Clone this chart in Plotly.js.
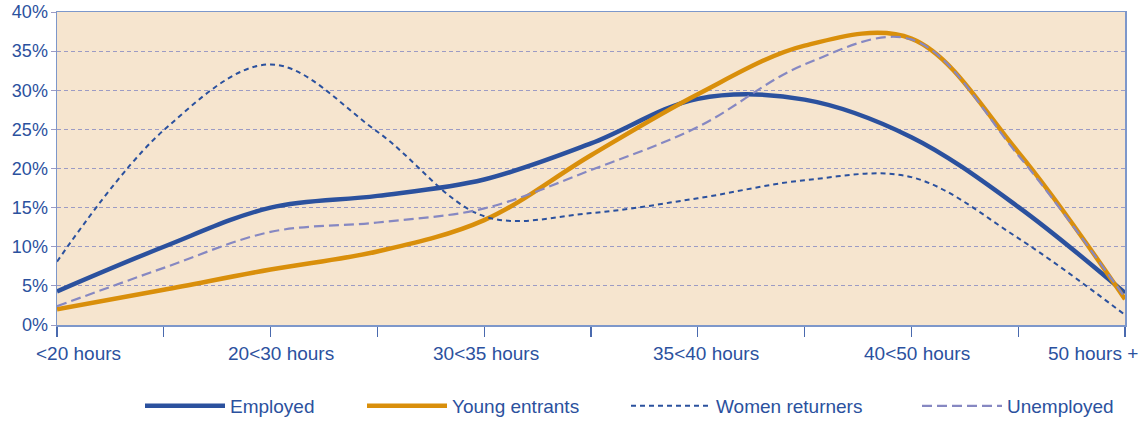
<!DOCTYPE html>
<html>
<head>
<meta charset="utf-8">
<script src="https://cdn.plot.ly/plotly-3.0.1.min.js"></script>
<style>
html,body{margin:0;padding:0;background:#fff;}
#chart{width:1144px;height:423px;}
</style>
</head>
<body>
<div id="chart"></div>
<script>
// Category labels (hour bands)
const hourBands = ['<20 hours', '20<30 hours', '30<35 hours', '35<40 hours', '40<50 hours', '50 hours +'];
// Sample positions along the category axis (category index, half steps)
const samplePoints = [0, 0.5, 1, 1.5, 2, 2.5, 3, 3.5, 4, 4.5, 5];
// Series values (% of group)
const employed        = [4.3, 10.0, 15.0, 16.5, 18.6, 23.2, 28.9, 28.8, 24.0, 15.1, 4.1];
const youngEntrants   = [2.0, 4.5, 7.1, 9.4, 13.4, 21.7, 29.5, 35.7, 36.6, 22.1, 3.3];
const womenReturners  = [8.1, 24.9, 33.3, 24.7, 13.9, 14.3, 16.2, 18.5, 18.9, 11.1, 1.3];
const unemployed      = [2.4, 7.3, 11.9, 13.1, 14.9, 19.8, 25.3, 33.3, 36.5, 21.7, 3.5];
const seriesNames = ['Employed', 'Young entrants', 'Women returners', 'Unemployed'];
const yTicks = [0, 5, 10, 15, 20, 25, 30, 35, 40];

const dark = '#2b519e';
const orange = '#d98f0b';
const lav = '#8688c2';
const fontFam = 'Liberation Sans, Arial, sans-serif';

const traces = [
  {x: samplePoints, y: employed, name: seriesNames[0], mode: 'lines',
   line: {color: dark, width: 4.5, shape: 'spline', smoothing: 1}, legend: 'legend'},
  {x: samplePoints, y: youngEntrants, name: seriesNames[1], mode: 'lines',
   line: {color: orange, width: 4.5, shape: 'spline', smoothing: 1}, legend: 'legend2'},
  {x: samplePoints, y: womenReturners, name: seriesNames[2], mode: 'lines',
   line: {color: dark, width: 2, dash: '5px,4px', shape: 'spline', smoothing: 1}, legend: 'legend3'},
  {x: samplePoints, y: unemployed, name: seriesNames[3], mode: 'lines',
   line: {color: lav, width: 2.2, dash: '10px,5px', shape: 'spline', smoothing: 1}, legend: 'legend4'}
];

const W = 1144, H = 423, L = 57, R = 19, T = 12, B = 98;
const pw = W - L - R, ph = H - T - B;
const px2x = p => (p - L) / pw;
const py2y = p => (H - B - p) / ph;
const legFont = {family: fontFam, size: 19, color: dark};
function leg(xpx) {
  return {x: px2x(xpx), y: py2y(406), xanchor: 'left', yanchor: 'middle', orientation: 'h',
          bgcolor: 'rgba(0,0,0,0)', font: legFont, itemwidth: 80};
}

// horizontal nudges of the category labels, as in the original layout
const labelShift = [21, 10, 2, 8, 6, -32];
const annotations = hourBands.map((lab, i) => ({
  x: i, xref: 'x', y: 0, yref: 'paper', yanchor: 'middle', xanchor: 'center',
  yshift: -(353 - (H - B)), xshift: labelShift[i],
  text: lab, showarrow: false, font: {family: fontFam, size: 19, color: dark}
}));

const layout = {
  width: W, height: H,
  margin: {l: L, r: R, t: T, b: B, autoexpand: false},
  paper_bgcolor: '#ffffff',
  plot_bgcolor: '#f6e5cf',
  font: {family: fontFam, size: 18, color: dark},
  xaxis: {
    range: [0, 5], tickmode: 'array', tickvals: samplePoints, ticktext: samplePoints.map(() => ''),
    ticks: 'outside', ticklen: 10, tickcolor: '#4a6aae', tickwidth: 1.3,
    showline: true, linecolor: '#7d97ca', linewidth: 1.5, mirror: true,
    showgrid: false, zeroline: false, fixedrange: true, automargin: false
  },
  yaxis: {
    range: [0, 40], tickmode: 'array', tickvals: yTicks, ticktext: yTicks.map(v => v + '%'),
    ticks: 'outside', ticklen: 5, tickcolor: '#9c9bc4', tickwidth: 1,
    showline: true, linecolor: '#7d97ca', linewidth: 1.5, mirror: true,
    showgrid: true, gridcolor: '#9c9bc4', gridwidth: 1, griddash: '4px,3px',
    zeroline: false, fixedrange: true, automargin: false,
    ticklabelstandoff: -1,
    tickfont: {size: 18, color: dark}
  },
  annotations: annotations,
  legend: leg(140),
  legend2: leg(362),
  legend3: leg(626),
  legend4: leg(917),
  showlegend: true
};

Plotly.newPlot('chart', traces, layout, {displayModeBar: false, staticPlot: true});
</script>
</body>
</html>
